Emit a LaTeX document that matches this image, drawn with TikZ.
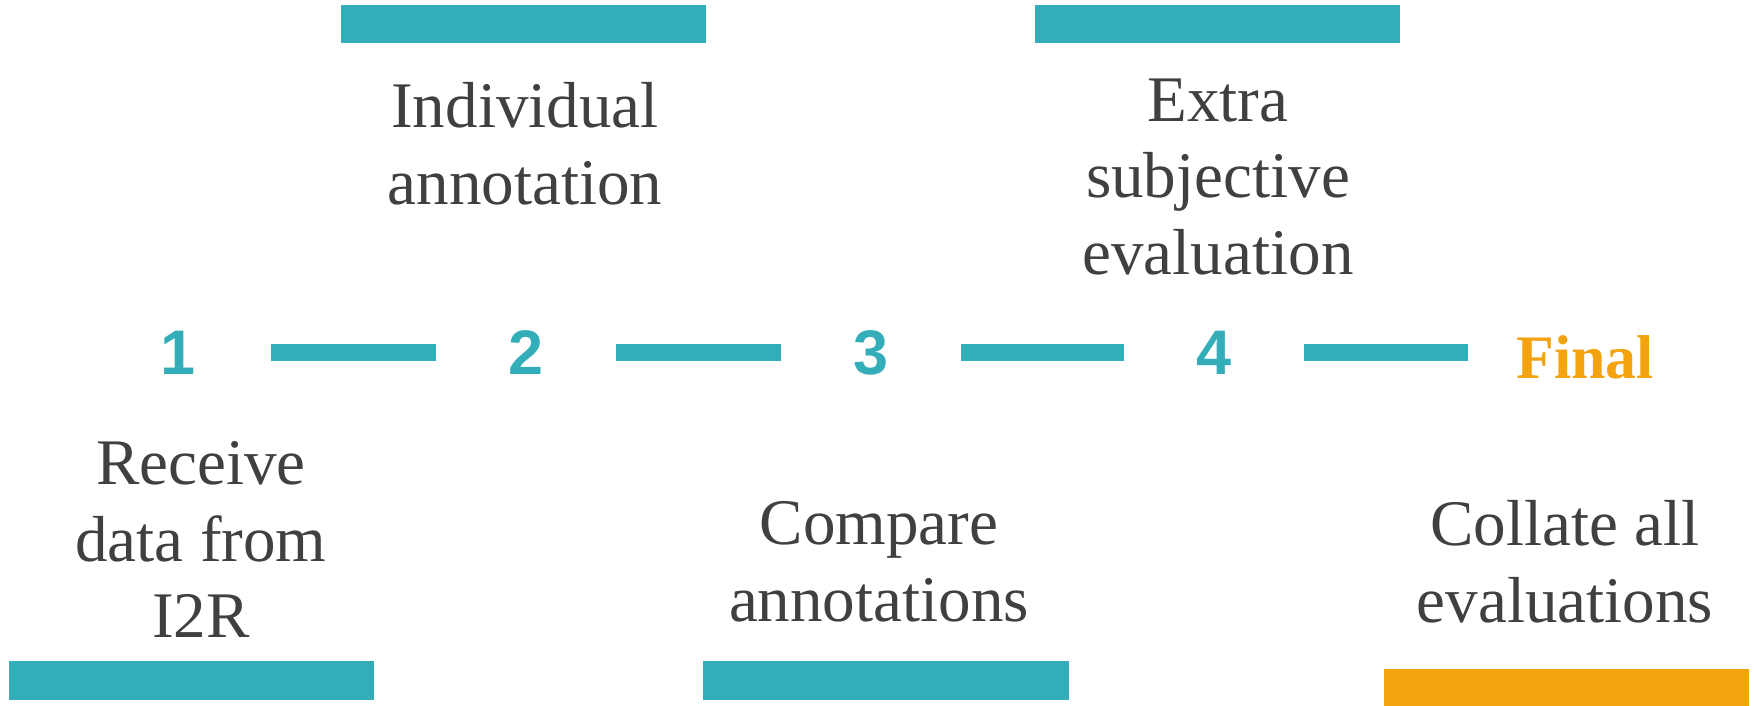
\documentclass[tikz,border=0pt]{standalone}
\usepackage{fontspec}
\setmainfont{Liberation Serif}
\newfontfamily\numfont{Liberation Sans}
\usepackage{tikz}
\usetikzlibrary{positioning,calc}
\definecolor{stepteal}{HTML}{33AEB8}
\definecolor{steporange}{HTML}{F2A30F}
\definecolor{textgray}{HTML}{404040}
\tikzset{
  tealbar/.style={fill=stepteal,inner sep=0pt,
                  minimum width=3.65cm,minimum height=3.8mm},
  orangebar/.style={tealbar,fill=steporange},
  stepnum/.style={font=\numfont\bfseries\fontsize{17.9}{20}\selectfont,
                  text=stepteal,inner sep=0pt},
  finalnum/.style={font=\bfseries\fontsize{17.6}{20}\selectfont,
                   text=steporange,inner sep=0pt},
  steplabel/.style={font=\fontsize{18.5}{21.8}\selectfont,text=textgray,
                    align=center,inner sep=0pt},
  linkbar/.style={draw=stepteal,line width=1.6mm,
                  shorten <=7.2mm,shorten >=7.2mm}
}
\begin{document}
\begin{tikzpicture}[x=0.01cm,y=-0.01cm]
  \useasboundingbox (0,0) rectangle (1754,706);
  % the row of steps
  \node[stepnum] (step1) at (178,352.5) {1};
  \node[stepnum] (step2) at (526,352.5) {2};
  \node[stepnum] (step3) at (871,352.5) {3};
  \node[stepnum] (step4) at (1214,352.5) {4};
  \node[finalnum] (final) at (1585,357) {Final};
  \draw[linkbar,shorten <=7.5mm] (step1) -- (step2);
  \draw[linkbar] (step2) -- (step3);
  \draw[linkbar] (step3) -- (step4);
  \draw[linkbar,shorten >=11.7mm] (step4) -- (step4 -| final);
  % labels above
  \node[tealbar] (bar2) at (523.5,24) {};
  \node[steplabel] (lbl2) at (525,144) {Individual\\annotation};
  \node[tealbar] (bar4) at (1217.5,24) {};
  \node[steplabel] (lbl4) at (1218,177) {Extra\\subjective\\evaluation};
  % labels below
  \node[steplabel] (lbl1) at (201,539.5) {Receive\\data from\\I2R};
  \node[tealbar] (bar1) at (191.5,680.5) {};
  \node[steplabel] (lbl3) at (879,562) {Compare\\annotations};
  \node[tealbar] (bar3) at (886,680.5) {};
  \node[steplabel] (lblf) at (1565,561.5) {Collate all\\evaluations};
  \node[orangebar] (barf) at (1566.5,688) {};
\end{tikzpicture}
\end{document}
